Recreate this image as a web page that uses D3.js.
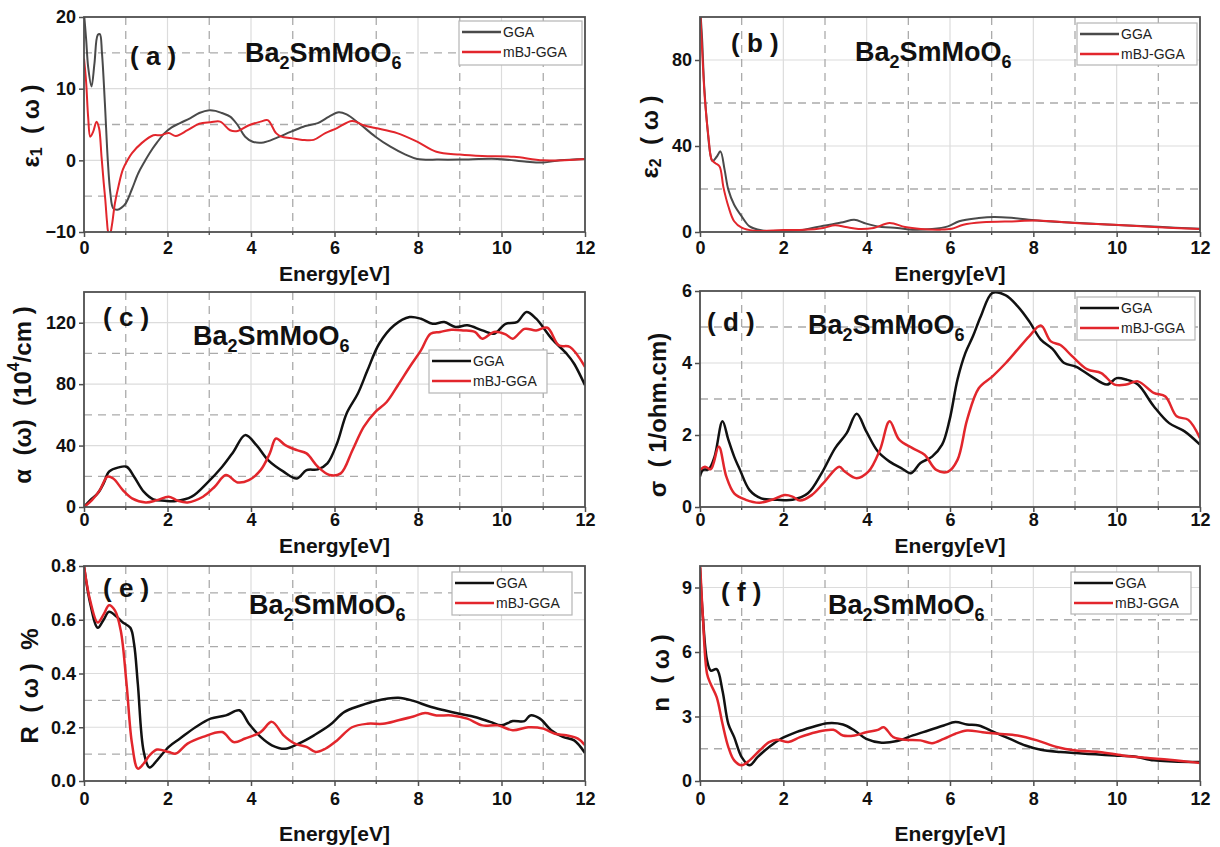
<!DOCTYPE html>
<html><head><meta charset="utf-8">
<script src="https://cdn.jsdelivr.net/npm/d3@7"></script>
<style>
body{margin:0;background:#fff;}
svg{font-family:Arial,"Liberation Sans",Helvetica,sans-serif;}
</style></head><body>
<svg id="chart" width="1220" height="847"></svg>
<script>
// ---------- shared axis values ----------
const energyTicks=[0,2,4,6,8,10,12];
const energyMinor=[1,3,5,7,9,11];
const seriesNames=["GGA","mBJ-GGA"];
const compound=["Ba","2","SmMoO","6"];

// ---------- (a) eps1 ----------
const eps1Ticks=[-10,0,10,20], eps1Minor=[-5,5,15];
const eps1GGA=[[0,20.5],[0.05,17],[0.1,13],[0.18,10.3],[0.25,13.5],[0.33,17.5],[0.38,17.6],[0.43,15],[0.5,8],[0.57,0],[0.63,-4.5],[0.7,-6.7],[0.8,-6.9],[0.9,-6.6],[1.0,-6],[1.15,-4],[1.3,-1.8],[1.45,-0.2],[1.57,1.0],[1.75,2.5],[1.93,3.8],[2.1,4.6],[2.3,5.2],[2.55,5.9],[2.76,6.6],[3.0,7.0],[3.15,6.9],[3.3,6.6],[3.5,6.1],[3.67,5.0],[3.86,3.3],[4.04,2.6],[4.3,2.5],[4.6,3.1],[4.96,4.0],[5.3,4.8],[5.6,5.2],[5.87,6.1],[6.1,6.7],[6.29,6.4],[6.6,5.1],[6.98,3.3],[7.34,1.9],[7.7,0.8],[7.98,0.2],[8.5,0.1],[9.0,0.1],[9.9,0.2],[10.6,-0.2],[11.0,-0.3],[11.4,0],[12,0.2]];
const eps1MBJ=[[0,14.2],[0.05,11],[0.1,6],[0.15,3.3],[0.22,4],[0.3,5.4],[0.36,4.5],[0.42,0.5],[0.47,-3],[0.51,-5.5],[0.55,-8.5],[0.58,-10],[0.62,-10.3],[0.67,-9],[0.74,-6],[0.83,-3.5],[0.93,-1.3],[1.05,0.1],[1.15,1.0],[1.38,2.4],[1.66,3.5],[1.84,3.5],[2.03,3.8],[2.2,3.4],[2.48,4.2],[2.76,5.1],[3.03,5.3],[3.26,5.4],[3.5,4.2],[3.68,4.1],[3.95,4.9],[4.23,5.4],[4.4,5.6],[4.6,3.8],[4.73,3.3],[4.96,3.1],[5.23,2.85],[5.5,2.85],[5.78,3.8],[6.06,4.5],[6.42,5.5],[6.7,4.9],[6.98,4.5],[7.5,3.8],[7.98,2.6],[8.44,1.2],[9.0,0.8],[9.54,0.6],[10.3,0.5],[11,0],[12,0.2]];

// ---------- (b) eps2 ----------
const eps2Ticks=[0,40,80], eps2Minor=[20,60];
const eps2GGA=[[0,105],[0.05,90],[0.1,68],[0.18,48],[0.25,36],[0.3,33],[0.4,35],[0.49,37.5],[0.59,29],[0.68,19.7],[0.82,12.7],[1.0,7.3],[1.19,2.6],[1.47,0.8],[2.03,0.6],[2.5,1.1],[2.96,2.9],[3.43,4.5],[3.7,5.7],[3.99,3.9],[4.36,2.3],[4.73,1.9],[5.1,1.1],[5.57,1.4],[5.95,2.6],[6.22,5],[6.69,6.5],[7.06,7],[7.53,6.5],[8.1,5.4],[9.0,4.3],[10,3.3],[11,2.4],[12,1.5]];
const eps2MBJ=[[0,105],[0.05,85],[0.12,61],[0.21,43],[0.28,33.6],[0.37,32],[0.47,30.5],[0.56,21],[0.68,12],[0.82,5],[1.0,2],[1.29,0.6],[2.0,0.9],[2.5,1.0],[2.96,1.9],[3.24,3.1],[3.5,2.3],[3.8,1.4],[4.17,1.9],[4.55,4.2],[4.92,2.3],[5.3,1.4],[5.76,1.1],[6.04,1.5],[6.32,3.4],[6.78,4.5],[7.6,5],[8.1,5.4],[9.0,4.2],[9.95,3.4],[10.9,2.3],[12,1.4]];

// ---------- (c) absorption ----------
const alphaTicks=[0,40,80,120], alphaMinor=[20,60,100];
const alphaGGA=[[0,0],[0.15,4.5],[0.33,8.9],[0.47,15.4],[0.6,23],[0.83,25.8],[1.02,26.2],[1.2,19.7],[1.43,10],[1.66,5],[1.93,4.1],[2.2,3.9],[2.58,6.7],[2.94,15.4],[3.31,26.2],[3.58,36],[3.86,46.8],[4.13,40.3],[4.41,30.5],[4.78,23],[5.1,18.6],[5.33,24],[5.6,24.5],[5.83,28.4],[6.06,41.4],[6.29,60.9],[6.56,73.9],[6.79,89],[7.07,106.3],[7.43,118.3],[7.8,123.7],[8.07,122.6],[8.35,119.3],[8.63,120.4],[8.9,117.2],[9.18,118.3],[9.54,115],[9.82,112.8],[10.1,119.3],[10.37,120.4],[10.6,127],[10.83,122.6],[11.2,109.6],[11.56,99.8],[11.74,93.3],[12,79.3]];
const alphaMBJ=[[0,0],[0.19,4.5],[0.38,11],[0.56,19.7],[0.7,18.6],[0.93,11],[1.15,5.6],[1.48,3],[1.75,4.5],[2.03,6.7],[2.25,4.1],[2.48,3],[2.85,6.7],[3.13,13.2],[3.4,20.8],[3.68,16],[3.95,17.5],[4.23,24],[4.45,34.9],[4.6,44.6],[4.82,40.3],[5.1,37],[5.33,34.9],[5.6,26.2],[5.88,20.8],[6.15,21.9],[6.43,37],[6.7,52.2],[6.98,62],[7.25,68.4],[7.52,79.3],[7.8,91.2],[8.07,102],[8.3,112.8],[8.53,114],[8.8,115.4],[9.08,115],[9.36,114],[9.54,109.6],[9.82,114],[10.1,112.4],[10.27,109.6],[10.55,116],[10.83,115],[11.1,116.7],[11.37,105.3],[11.64,104.2],[12,91.2]];

// ---------- (d) conductivity ----------
const sigmaTicks=[0,2,4,6], sigmaMinor=[1,3,5];
const sigmaGGA=[[0,0.85],[0.07,1.03],[0.21,1.05],[0.35,1.4],[0.54,2.38],[0.68,1.87],[0.82,1.4],[0.96,1.03],[1.19,0.47],[1.47,0.24],[1.85,0.2],[2.22,0.2],[2.59,0.38],[2.92,0.94],[3.24,1.63],[3.52,2.05],[3.76,2.59],[3.99,2.1],[4.27,1.54],[4.55,1.26],[4.83,1.08],[5.06,0.94],[5.29,1.22],[5.57,1.4],[5.81,1.73],[5.99,2.42],[6.18,3.54],[6.37,4.28],[6.55,4.74],[6.74,5.3],[7.02,5.95],[7.34,5.88],[7.62,5.58],[7.9,5.16],[8.18,4.65],[8.46,4.39],[8.74,4.0],[9.02,3.9],[9.39,3.63],[9.77,3.4],[10.0,3.58],[10.23,3.54],[10.51,3.4],[10.89,2.8],[11.26,2.33],[11.63,2.1],[12,1.73]];
const sigmaMBJ=[[0,1.03],[0.12,1.12],[0.26,1.05],[0.45,1.68],[0.63,0.85],[0.82,0.38],[1.1,0.2],[1.43,0.12],[1.75,0.21],[2.03,0.33],[2.22,0.29],[2.4,0.18],[2.68,0.33],[2.96,0.66],[3.34,1.12],[3.48,0.98],[3.76,0.8],[4.04,0.98],[4.32,1.59],[4.55,2.38],[4.78,1.87],[5.11,1.63],[5.39,1.45],[5.67,1.03],[5.95,0.98],[6.18,1.31],[6.41,2.42],[6.69,3.3],[7.02,3.63],[7.34,4.0],[7.62,4.37],[7.9,4.74],[8.18,5.04],[8.42,4.6],[8.65,4.5],[8.93,4.19],[9.3,3.82],[9.63,3.72],[9.95,3.4],[10.23,3.4],[10.51,3.49],[10.89,3.17],[11.17,3.07],[11.44,2.52],[11.72,2.42],[12,1.91]];

// ---------- (e) reflectivity ----------
const reflTicks=[0,0.2,0.4,0.6,0.8], reflMinor=[0.1,0.3,0.5,0.7];
const reflGGA=[[0,0.8],[0.15,0.66],[0.33,0.57],[0.47,0.6],[0.6,0.63],[0.79,0.61],[0.93,0.59],[1.11,0.57],[1.2,0.51],[1.29,0.36],[1.43,0.11],[1.57,0.05],[1.75,0.077],[2.03,0.127],[2.3,0.158],[2.67,0.2],[3.03,0.232],[3.4,0.244],[3.72,0.263],[3.95,0.213],[4.23,0.164],[4.5,0.133],[4.82,0.12],[5.14,0.139],[5.51,0.17],[5.88,0.207],[6.24,0.257],[6.61,0.28],[6.98,0.298],[7.53,0.31],[7.89,0.298],[8.26,0.278],[8.63,0.263],[8.99,0.25],[9.36,0.238],[9.73,0.22],[10.0,0.207],[10.27,0.223],[10.55,0.223],[10.69,0.244],[10.92,0.232],[11.19,0.189],[11.47,0.164],[11.74,0.151],[12,0.104]];
const reflMBJ=[[0,0.8],[0.15,0.67],[0.33,0.59],[0.47,0.62],[0.6,0.654],[0.74,0.635],[0.88,0.56],[1.02,0.36],[1.15,0.139],[1.29,0.046],[1.43,0.065],[1.57,0.095],[1.75,0.117],[2.03,0.108],[2.2,0.102],[2.48,0.139],[2.85,0.164],[3.31,0.182],[3.58,0.145],[3.86,0.158],[4.23,0.182],[4.5,0.22],[4.78,0.17],[5.05,0.139],[5.33,0.127],[5.55,0.108],[5.78,0.12],[6.06,0.151],[6.42,0.2],[6.79,0.213],[7.16,0.213],[7.53,0.226],[7.89,0.24],[8.17,0.253],[8.44,0.244],[8.81,0.244],[9.18,0.232],[9.54,0.207],[9.91,0.207],[10.27,0.189],[10.64,0.2],[11.0,0.195],[11.28,0.176],[11.55,0.17],[11.83,0.158],[12,0.133]];

// ---------- (f) refractive index ----------
const nTicks=[0,3,6,9], nMinor=[1.5,4.5,7.5];
const nGGA=[[0,9.9],[0.07,7.6],[0.17,5.6],[0.26,5.13],[0.4,5.2],[0.54,4.2],[0.68,2.66],[0.82,2.04],[1.0,1.11],[1.19,0.73],[1.38,1.11],[1.66,1.58],[1.94,1.96],[2.31,2.27],[2.68,2.5],[3.06,2.69],[3.43,2.63],[3.71,2.35],[3.99,1.96],[4.36,1.78],[4.73,1.86],[5.11,2.12],[5.48,2.35],[5.85,2.58],[6.13,2.74],[6.41,2.63],[6.69,2.58],[7.06,2.27],[7.44,1.96],[7.81,1.65],[8.18,1.45],[8.65,1.35],[9.02,1.3],[9.49,1.24],[9.95,1.19],[10.42,1.14],[10.89,0.96],[11.35,0.91],[12,0.88]];
const nMBJ=[[0,10.2],[0.07,7.6],[0.17,4.98],[0.26,4.5],[0.4,3.9],[0.54,2.66],[0.68,1.58],[0.82,0.96],[1.0,0.73],[1.19,0.96],[1.43,1.42],[1.66,1.81],[1.85,1.92],[2.12,1.81],[2.4,2.04],[2.78,2.27],[3.2,2.38],[3.43,2.12],[3.71,2.12],[3.99,2.27],[4.27,2.38],[4.41,2.5],[4.64,2.04],[4.92,1.92],[5.29,1.89],[5.57,1.76],[5.85,1.96],[6.13,2.2],[6.41,2.35],[6.78,2.27],[7.16,2.2],[7.62,2.12],[8.09,1.89],[8.56,1.58],[9.02,1.42],[9.58,1.35],[10.14,1.19],[10.7,1.08],[11.26,0.99],[12,0.84]];

// ---------- panel layout ----------
const RED="#e2262c";
const panels=[
 {tag:"a",box:[84,17,585,232],dom:[-10,20],ticks:eps1Ticks,minor:eps1Minor,fmt:d3.format("d"),data:[eps1GGA,eps1MBJ],gcol:"#4a4a4a",lw:2,pad:4,
  ytitle:[["ε",0],["1",1],["  ( ω )",0]],yt:[30,126],title:[245,62],lab:[130,65],leg:[459,21,123,44],xl:281},
 {tag:"b",box:[700,17,1200,232],dom:[0,100],ticks:eps2Ticks,minor:eps2Minor,fmt:d3.format("d"),data:[eps2GGA,eps2MBJ],gcol:"#4a4a4a",lw:2,pad:4,
  ytitle:[["ε",0],["2",1],["  ( ω )",0]],yt:[649,137],title:[855,61],lab:[731,52],leg:[1077,23,120,42],xl:281},
 {tag:"c",box:[84,292,585,507],dom:[0,140],ticks:alphaTicks,minor:alphaMinor,fmt:d3.format("d"),data:[alphaGGA,alphaMBJ],gcol:"#111",lw:2.5,pad:1,
  ytitle:[["α  (ω)  (10",0],["4",2],["/cm )",0]],yt:[22,395],title:[193,345],lab:[103,326],leg:[429,350,118,43],xl:553},
 {tag:"d",box:[700,291,1200,507],dom:[0,6],ticks:sigmaTicks,minor:sigmaMinor,fmt:d3.format("d"),data:[sigmaGGA,sigmaMBJ],gcol:"#111",lw:2.5,pad:1,
  ytitle:[["σ  ( 1/ohm.cm)",0]],yt:[657,415],title:[808,334],lab:[707,331],leg:[1077,297,118,43],xl:553},
 {tag:"e",box:[84,566,585,781],dom:[0,0.8],ticks:reflTicks,minor:reflMinor,fmt:d3.format(".1f"),data:[reflGGA,reflMBJ],gcol:"#111",lw:2.5,pad:6,
  ytitle:[["R  ( ω )  %",0]],yt:[29,686],title:[249,614],lab:[103,597],leg:[452,572,120,43],xl:841},
 {tag:"f",box:[700,566,1200,781],dom:[0,10],ticks:nTicks,minor:nMinor,fmt:d3.format("d"),data:[nGGA,nMBJ],gcol:"#111",lw:2.5,pad:6,
  ytitle:[["n  ( ω )",0]],yt:[660,673],title:[828,614],lab:[721,601],leg:[1071,572,120,42],xl:841}
];

const svg=d3.select("#chart");
const defs=svg.append("defs");

panels.forEach(p=>{
  const [L,T,R,B]=p.box;
  const x=d3.scaleLinear().domain([0,12]).range([L,R]);
  const y=d3.scaleLinear().domain(p.dom).range([B,T]);
  const g=svg.append("g");
  // solid grid at labelled ticks
  g.selectAll(".vs").data(energyTicks.slice(1,-1)).join("line")
    .attr("x1",d=>x(d)).attr("x2",d=>x(d)).attr("y1",T).attr("y2",B)
    .attr("stroke","#dcdcdc").attr("stroke-width",1.2);
  g.selectAll(".hs").data(p.ticks.filter(v=>v>p.dom[0]&&v<p.dom[1])).join("line")
    .attr("x1",L).attr("x2",R).attr("y1",d=>y(d)).attr("y2",d=>y(d))
    .attr("stroke","#dcdcdc").attr("stroke-width",1.2);
  // dashed grid at intermediate values
  g.selectAll(".vd").data(energyMinor).join("line")
    .attr("x1",d=>x(d)).attr("x2",d=>x(d)).attr("y1",T).attr("y2",B)
    .attr("stroke","#ababab").attr("stroke-width",1.3).attr("stroke-dasharray","8,6");
  g.selectAll(".hd").data(p.minor).join("line")
    .attr("x1",L).attr("x2",R).attr("y1",d=>y(d)).attr("y2",d=>y(d))
    .attr("stroke","#ababab").attr("stroke-width",1.3).attr("stroke-dasharray","8,6");

  // curves
  const cid="clip-"+p.tag;
  defs.append("clipPath").attr("id",cid).append("rect").attr("x",L).attr("y",T).attr("width",R-L).attr("height",B-T);
  const line=d3.line().x(d=>x(d[0])).y(d=>y(d[1])).curve(d3.curveCatmullRom.alpha(0.5));
  const cols=[p.gcol,RED];
  const cg=g.append("g").attr("clip-path",`url(#${cid})`);
  p.data.forEach((s,i)=>{
    cg.append("path").datum(s).attr("d",line).attr("fill","none")
      .attr("stroke",cols[i]).attr("stroke-width",p.lw).attr("stroke-linejoin","round");
  });

  // frame
  g.append("rect").attr("x",L).attr("y",T).attr("width",R-L).attr("height",B-T)
    .attr("fill","none").attr("stroke","#4f4f4f").attr("stroke-width",1.8);

  // axes
  const ax=g.append("g").attr("transform",`translate(0,${B})`)
    .call(d3.axisBottom(x).tickValues(energyTicks).tickFormat(d3.format("d")).tickSize(5).tickPadding(p.pad));
  const ay=g.append("g").attr("transform",`translate(${L},0)`)
    .call(d3.axisLeft(y).tickValues(p.ticks).tickFormat(p.fmt).tickSize(5).tickPadding(3));
  [ax,ay].forEach(a=>{
    a.select(".domain").remove();
    a.selectAll("line").attr("stroke","#4f4f4f").attr("stroke-width",1.5);
    a.selectAll("text").attr("font-size",18).attr("font-weight","bold").attr("fill","#111")
      .attr("font-family","Arial,'Liberation Sans',sans-serif");
  });
  g.append("g").selectAll("line").data(energyMinor).join("line")
    .attr("x1",d=>x(d)).attr("x2",d=>x(d)).attr("y1",B).attr("y2",B+3)
    .attr("stroke","#4f4f4f").attr("stroke-width",1.3);

  // x title
  g.append("text").attr("x",(L+R)/2).attr("y",p.xl).attr("text-anchor","middle")
    .attr("font-size",21).attr("font-weight","bold").attr("fill","#111").text("Energy[eV]");

  // y title
  const yt=g.append("text").attr("transform",`translate(${p.yt[0]},${p.yt[1]}) rotate(-90)`)
    .attr("text-anchor","middle").attr("dominant-baseline","central")
    .attr("font-size",24).attr("font-weight","bold").attr("fill","#111").style("white-space","pre");
  let shift=0;
  p.ytitle.forEach(([t,k])=>{
    const ts=yt.append("tspan").text(t);
    const target=k===1?6:(k===2?-9:0);
    ts.attr("dy",target-shift); shift=target;
    if(k) ts.attr("font-size",16);
  });

  // compound title
  const tt=g.append("text").attr("x",p.title[0]).attr("y",p.title[1])
    .attr("font-size",27).attr("font-weight","bold").attr("fill","#111");
  compound.forEach((t,i)=>{
    const sub=i%2===1;
    tt.append("tspan").text(t).attr("font-size",sub?18:27).attr("dy",i===0?0:(sub?7:-7));
  });

  // panel label
  g.append("text").attr("x",p.lab[0]).attr("y",p.lab[1]).attr("font-size",26).attr("font-weight","bold")
    .attr("fill","#111").style("white-space","pre").text(`( ${p.tag} )`);

  // legend
  const [lx,ly,lw,lh]=p.leg;
  const lg=g.append("g");
  lg.append("rect").attr("x",lx).attr("y",ly).attr("width",lw).attr("height",lh)
    .attr("fill","#fff").attr("stroke","#b5b5b5").attr("stroke-width",1.2);
  seriesNames.forEach((nm,i)=>{
    const yy=ly+11+i*20;
    lg.append("line").attr("x1",lx+3).attr("x2",lx+42).attr("y1",yy).attr("y2",yy)
      .attr("stroke",cols[i]).attr("stroke-width",2.6);
    lg.append("text").attr("x",lx+44).attr("y",yy).attr("dominant-baseline","central")
      .attr("font-size",14).attr("fill","#222").text(nm);
  });
});
</script>
</body></html>
